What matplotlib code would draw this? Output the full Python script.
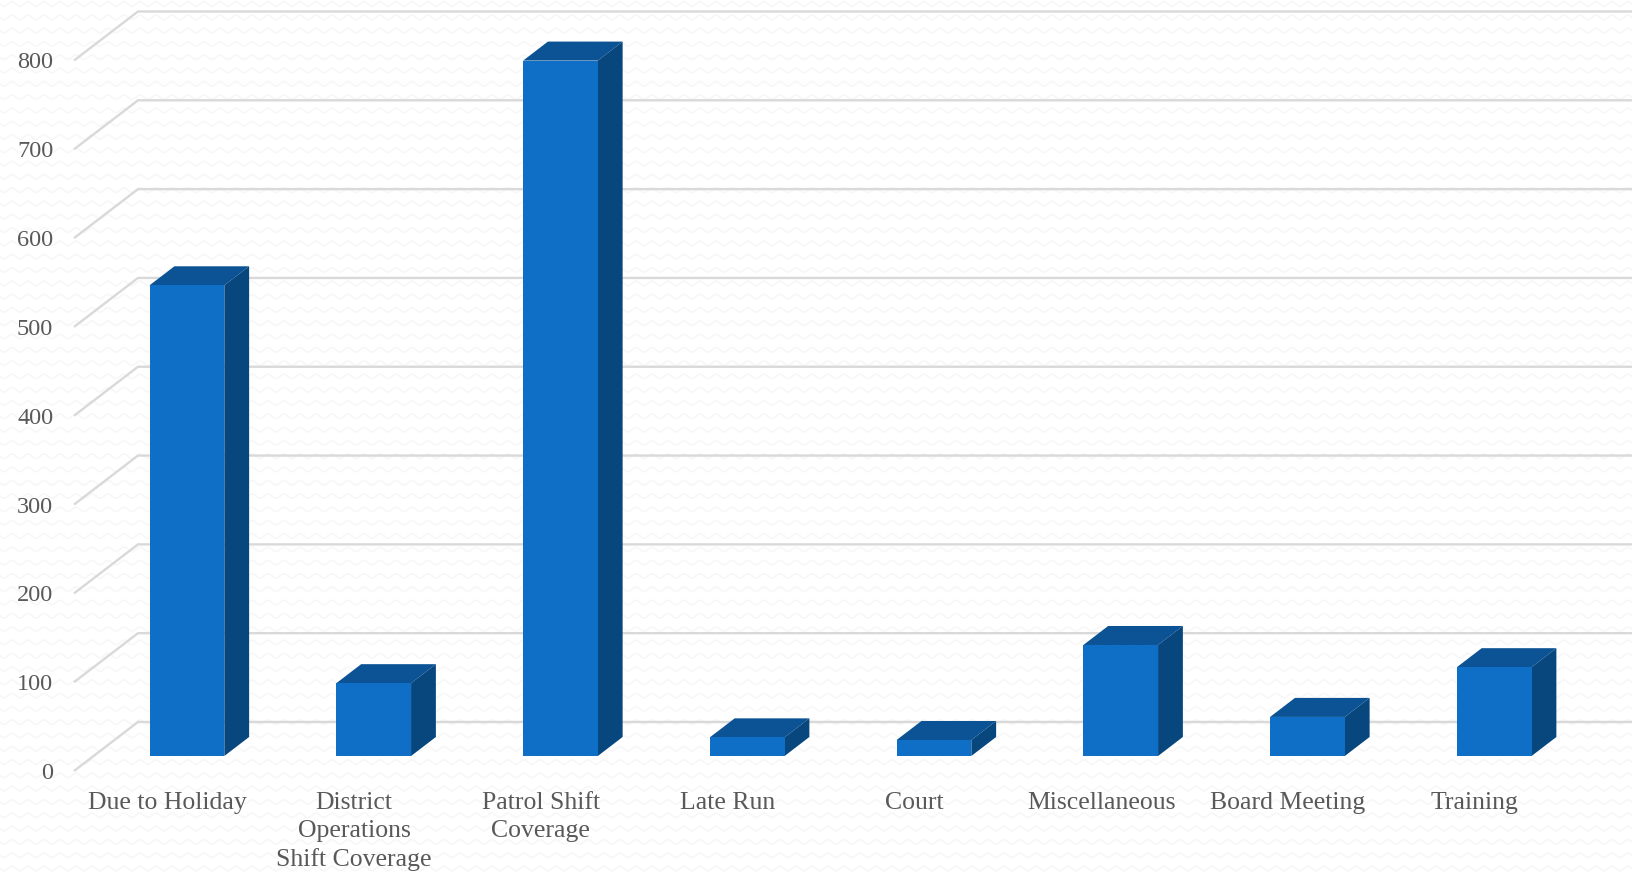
import numpy as np
import matplotlib
matplotlib.use("Agg")
import matplotlib.pyplot as plt

# DATA
CATEGORIES = ["Due to Holiday", "District\nOperations\nShift Coverage", "Patrol Shift\nCoverage", "Late Run",
              "Court", "Miscellaneous", "Board Meeting", "Training"]
VALUES = [530, 82, 783, 21, 18, 125, 44, 100]
Y_TICKS = [0, 100, 200, 300, 400, 500, 600, 700, 800]

# CONSTANTS
W, H = 1632, 874
AX_LEFT, AX_RIGHT, AX_BOTTOM, AX_TOP = 74, 1568, 771, 60.5   # pixels, from top-left
DEPTH_X = 64 / 186.8     # wall depth in category units
DEPTH_Y = 49 / 0.888     # wall depth in value units
BAR_WIDTH = 0.4
BAR_D0, BAR_D1 = 0.306, 0.694
FRONT_COLOR = "#0F6FC6"
TOP_COLOR = "#0B5395"
SIDE_COLOR = "#07477E"
GRID_COLOR = "#D9D9D9"
TEXT_COLOR = "#595959"
WAVE_COLOR = "#F7F7F7"

plt.rcParams["font.family"] = ["Liberation Serif", "DejaVu Serif"]


def project(x, y, d):
    # oblique projection, d=0 is the front plane and d=1 the back wall
    return x + DEPTH_X * d, y + DEPTH_Y * d


def draw_bar(ax, i, value):
    left, right = i - BAR_WIDTH / 2, i + BAR_WIDTH / 2
    x0, y0 = project(left, 0, BAR_D0)
    ax.bar(x0, value, width=BAR_WIDTH, bottom=y0, align="edge", color=FRONT_COLOR, zorder=5)
    top = [project(left, value, BAR_D0), project(right, value, BAR_D0),
           project(right, value, BAR_D1), project(left, value, BAR_D1)]
    side = [project(right, 0, BAR_D0), project(right, value, BAR_D0),
            project(right, value, BAR_D1), project(right, 0, BAR_D1)]
    ax.fill(*zip(*top), color=TOP_COLOR, lw=0, zorder=4, clip_on=False)
    ax.fill(*zip(*side), color=SIDE_COLOR, lw=0, zorder=4, clip_on=False)


fig = plt.figure(figsize=(W / 100, H / 100), dpi=100, facecolor="white")

# wavy background texture
bg = fig.add_axes([0, 0, 1, 1], zorder=0)
bg.set_xlim(0, W)
bg.set_ylim(H, 0)
bg.axis("off")
xs = np.arange(0, W + 2, 1.0)
for row in np.arange(4, H + 13, 13.3):
    bg.plot(xs, row + 2.2 * np.sin(xs * 2 * np.pi / 16), color=WAVE_COLOR, lw=1.2)

ax = fig.add_axes([AX_LEFT / W, 1 - AX_BOTTOM / H, (AX_RIGHT - AX_LEFT) / W, (AX_BOTTOM - AX_TOP) / H], zorder=1)
ax.patch.set_alpha(0)
ax.set_xlim(-0.5, 7.5)
ax.set_ylim(0, 800)

# wall gridlines
for v in Y_TICKS:
    bx, by = project(-0.5, v, 1)
    ex, _ = project(7.5, v, 1)
    ax.plot([-0.5, bx, ex], [v, by, by], color=GRID_COLOR, lw=1.7, zorder=1, clip_on=False,
            solid_joinstyle="miter", solid_capstyle="butt")

for i, value in enumerate(VALUES):
    draw_bar(ax, i, value)

for s in ax.spines.values():
    s.set_visible(False)
ax.set_xticks(range(len(CATEGORIES)))
ax.set_xticklabels(CATEGORIES, fontsize=18.5, color=TEXT_COLOR, linespacing=1.35)
ax.set_yticks(Y_TICKS)
ax.set_yticklabels([str(v) for v in Y_TICKS], fontsize=17.5, color=TEXT_COLOR)
ax.tick_params(axis="x", length=0, pad=15)
ax.tick_params(axis="y", length=0, pad=15)

fig.savefig("out.png", dpi=100)
